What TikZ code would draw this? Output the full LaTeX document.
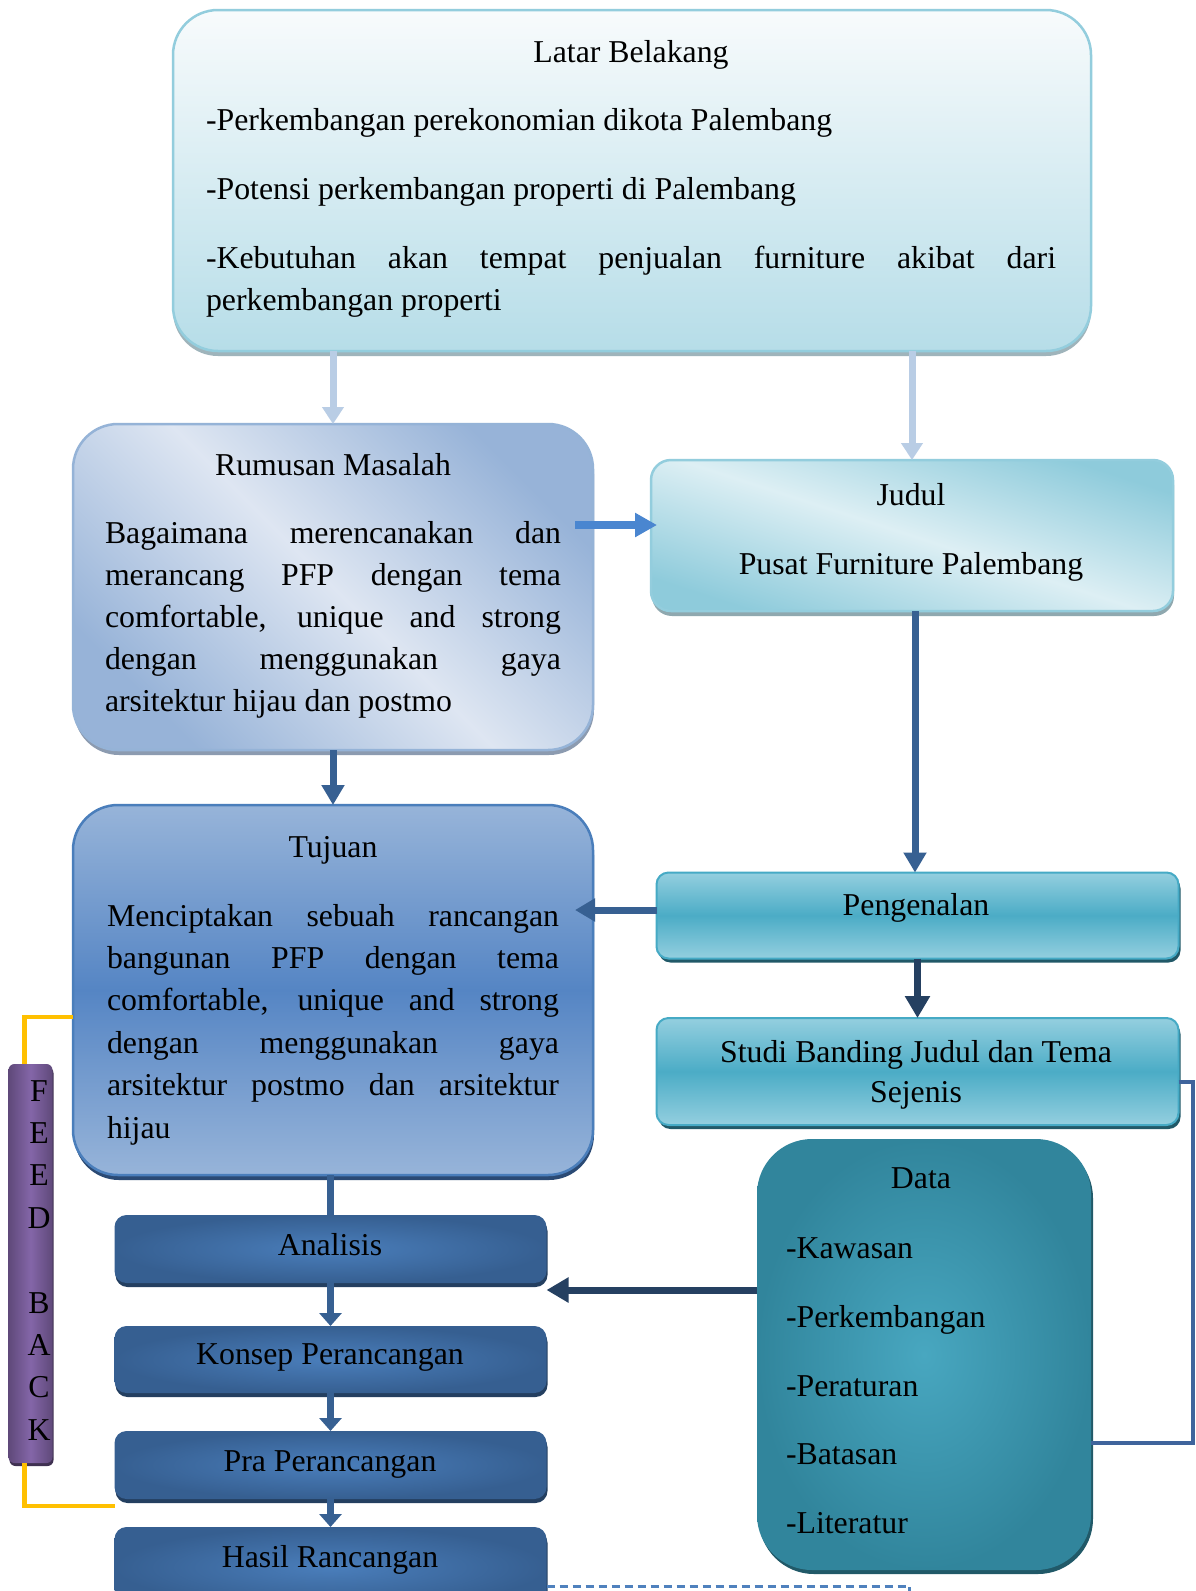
\documentclass[tikz,border=0pt]{standalone}
\usepackage{fontspec}
\setmainfont{Liberation Serif}
\usetikzlibrary{arrows.meta,shadows}
\definecolor{latTop}{HTML}{F8FBFC}
\definecolor{latBot}{HTML}{B6DDE8}
\definecolor{latLine}{HTML}{93CDDD}
\definecolor{latShadow}{HTML}{9FB4BB}
\definecolor{rumDark}{HTML}{97B3D8}
\definecolor{rumLight}{HTML}{DEE6F2}
\definecolor{rumLine}{HTML}{95B3D7}
\definecolor{rumShadow}{HTML}{8C9BB0}
\definecolor{judDark}{HTML}{8ECBDB}
\definecolor{judLight}{HTML}{DDEFF4}
\definecolor{judShadow}{HTML}{8FA8AF}
\definecolor{tujLight}{HTML}{97B4D9}
\definecolor{tujMid}{HTML}{5585C4}
\definecolor{tujLine}{HTML}{4A7EBB}
\definecolor{tujShadow}{HTML}{2B4A74}
\definecolor{penLight}{HTML}{94CFDF}
\definecolor{penMid}{HTML}{4BACC6}
\definecolor{penLine}{HTML}{46AAC5}
\definecolor{penShadow}{HTML}{215968}
\definecolor{datOuter}{HTML}{31859C}
\definecolor{datInner}{HTML}{48A7C0}
\definecolor{datShadow}{HTML}{215968}
\definecolor{anaOuter}{HTML}{365F91}
\definecolor{anaInner}{HTML}{4A7EBB}
\definecolor{anaShadow}{HTML}{243F60}
\definecolor{fbOuter}{HTML}{5F497A}
\definecolor{fbInner}{HTML}{8466A8}
\definecolor{fbShadow}{HTML}{3F3151}
\definecolor{lightArrow}{HTML}{B9CDE5}
\definecolor{blueArrow}{HTML}{4A86D0}
\definecolor{darkArrow}{HTML}{376092}
\definecolor{navyArrow}{HTML}{254061}
\definecolor{bracketBlue}{HTML}{3F649C}
\definecolor{fbOrange}{HTML}{FFC000}
\definecolor{dashBlue}{HTML}{4F81BD}
\tikzset{
  box/.style={rectangle, inner sep=0pt, outer sep=0pt},
  latbox/.style={box, rounded corners=45pt, draw=latLine, line width=2.5pt,
    top color=latTop, bottom color=latBot,
    drop shadow={shadow xshift=0pt, shadow yshift=-5pt, fill=latShadow, opacity=1}},
  rumbox/.style={box, rounded corners=45pt, draw=rumLine, line width=2.5pt,
    top color=rumDark, bottom color=rumDark, middle color=rumLight, shading angle=-45,
    drop shadow={shadow xshift=1pt, shadow yshift=-5pt, fill=rumShadow, opacity=1}},
  judbox/.style={box, rounded corners=20pt, draw=latLine, line width=2.5pt,
    top color=judDark, bottom color=judDark, middle color=judLight, shading angle=-18,
    drop shadow={shadow xshift=1pt, shadow yshift=-5pt, fill=judShadow, opacity=1}},
  tujbox/.style={box, rounded corners=45pt, draw=tujLine, line width=2.5pt,
    top color=tujLight, bottom color=tujLight, middle color=tujMid,
    drop shadow={shadow xshift=1pt, shadow yshift=-5pt, fill=tujShadow, opacity=1}},
  penbox/.style={box, rounded corners=12pt, draw=penLine, line width=2pt,
    top color=penLight, bottom color=penLight, middle color=penMid,
    drop shadow={shadow xshift=2pt, shadow yshift=-4pt, fill=penShadow, opacity=1}},
  datbox/.style={box, rounded corners=55pt, inner color=datInner, outer color=datOuter,
    drop shadow={shadow xshift=2pt, shadow yshift=-4pt, fill=datShadow, opacity=1}},
  anabox/.style={box, rounded corners=12pt, inner color=anaInner, outer color=anaOuter,
    minimum width=432pt,
    drop shadow={shadow xshift=1pt, shadow yshift=-4pt, fill=anaShadow, opacity=1}},
  fbbox/.style={box, rounded corners=6pt, left color=fbOuter, right color=fbOuter, middle color=fbInner,
    drop shadow={shadow xshift=1pt, shadow yshift=-3pt, fill=fbShadow, opacity=1}},
  txt/.style={inner sep=0pt, outer sep=0pt, font=\fontsize{31.8}{42.4}\selectfont},
  lefttxt/.style={txt, anchor=base west},
  ctrtxt/.style={txt, anchor=base},
  lightarr/.style={draw=lightArrow, line width=7pt, -{Triangle[width=21pt,length=17pt]}},
  bluearr/.style={draw=blueArrow, line width=8pt, -{Triangle[width=23pt,length=22pt]}},
  darkarr/.style={draw=darkArrow, line width=7pt, -{Triangle[width=22pt,length=20pt]}},
  navyarr/.style={draw=navyArrow, line width=7pt, -{Triangle[width=24pt,length=22pt]}},
  smallarr/.style={draw=darkArrow, line width=7pt, -{Triangle[width=22pt,length=13pt]}},
  darkline/.style={draw=darkArrow, line width=7pt},
  bracket/.style={draw=bracketBlue, line width=4pt},
  fbline/.style={draw=fbOrange, line width=4.5pt},
  dashline/.style={draw=dashBlue, line width=3pt, dash pattern=on 8pt off 5pt},
}
\begin{document}
\begin{tikzpicture}[x=1pt,y=-1pt]
\useasboundingbox (0,0) rectangle (1195,1591);
\clip (0,0) rectangle (1195,1591);
\fill[white] (0,0) rectangle (1195,1591);

% boxes
\node[latbox, minimum width=918pt, minimum height=341pt] (lat) at (632,180.5) {};
\node[rumbox, minimum width=520pt, minimum height=326pt] (rum) at (333,587) {};
\node[judbox, minimum width=522pt, minimum height=151pt] (jud) at (912,535.5) {};
\node[tujbox, minimum width=520pt, minimum height=370pt] (tuj) at (333,990) {};
\node[penbox, minimum width=522pt, minimum height=86pt] (pen) at (917.5,915.5) {};
\node[penbox, minimum width=522pt, minimum height=107pt] (stu) at (917.5,1071.5) {};
\node[datbox, minimum width=334pt, minimum height=431pt] (dat) at (924,1354.5) {};
\node[anabox, minimum height=68pt] (ana) at (330.5,1249) {};
\node[anabox, minimum height=67pt] (kon) at (330.5,1359.5) {};
\node[anabox, minimum height=68pt] (pra) at (330.5,1465) {};
\node[anabox, minimum height=80pt] (has) at (330.5,1567) {};
\node[fbbox, minimum width=44pt, minimum height=399pt] (fb) at (30.5,1263.5) {};

% Latar Belakang
\node[ctrtxt] (lat0) at (631,62) {Latar Belakang};
\node[lefttxt] (lat1) at (206,130) {-Perkembangan perekonomian dikota Palembang};
\node[lefttxt] (lat2) at (206,199) {-Potensi perkembangan properti di Palembang};
\node[lefttxt] (lat3) at (206,268) {\makebox[850pt][s]{-Kebutuhan akan tempat penjualan furniture akibat dari}};
\node[lefttxt] (lat4) at (206,310) {perkembangan properti};

% Rumusan Masalah
\node[ctrtxt] (rum0) at (333,475) {Rumusan Masalah};
\node[lefttxt] (rum1) at (105,543) {\makebox[456pt][s]{Bagaimana merencanakan dan}};
\node[lefttxt] (rum2) at (105,585.2) {\makebox[456pt][s]{merancang PFP dengan tema}};
\node[lefttxt] (rum3) at (105,627.4) {\makebox[456pt][s]{comfortable, unique and strong}};
\node[lefttxt] (rum4) at (105,669.6) {\makebox[456pt][s]{dengan menggunakan gaya}};
\node[lefttxt] (rum5) at (105,711.8) {arsitektur hijau dan postmo};

% Judul
\node[ctrtxt] (jud0) at (911,505) {Judul};
\node[ctrtxt] (jud1) at (911,574) {Pusat Furniture Palembang};

% Tujuan
\node[ctrtxt] (tuj0) at (333,857) {Tujuan};
\node[lefttxt] (tuj1) at (107,926) {\makebox[452pt][s]{Menciptakan sebuah rancangan}};
\node[lefttxt] (tuj2) at (107,968.4) {\makebox[452pt][s]{bangunan PFP dengan tema}};
\node[lefttxt] (tuj3) at (107,1010.8) {\makebox[452pt][s]{comfortable, unique and strong}};
\node[lefttxt] (tuj4) at (107,1053.2) {\makebox[452pt][s]{dengan menggunakan gaya}};
\node[lefttxt] (tuj5) at (107,1095.6) {\makebox[452pt][s]{arsitektur postmo dan arsitektur}};
\node[lefttxt] (tuj6) at (107,1138) {hijau};

% Pengenalan, Studi
\node[ctrtxt] (pen0) at (916,915) {Pengenalan};
\node[ctrtxt] (stu0) at (916,1062) {Studi Banding Judul dan Tema};
\node[ctrtxt] (stu1) at (916,1102) {Sejenis};

% Data
\node[ctrtxt] (dat0) at (921,1188) {Data};
\node[lefttxt] (dat1) at (786,1258) {-Kawasan};
\node[lefttxt] (dat2) at (786,1327) {-Perkembangan};
\node[lefttxt] (dat3) at (786,1396) {-Peraturan};
\node[lefttxt] (dat4) at (786,1464) {-Batasan};
\node[lefttxt] (dat5) at (786,1533) {-Literatur};

% process boxes
\node[ctrtxt] (ana0) at (330,1255) {Analisis};
\node[ctrtxt] (kon0) at (330,1364) {Konsep Perancangan};
\node[ctrtxt] (pra0) at (330,1471) {Pra Perancangan};
\node[ctrtxt] (has0) at (330,1567) {Hasil Rancangan};

% FEED BACK
\node[ctrtxt] (fb1) at (39,1101) {F};
\node[ctrtxt] (fb2) at (39,1143.4) {E};
\node[ctrtxt] (fb3) at (39,1185.8) {E};
\node[ctrtxt] (fb4) at (39,1228.2) {D};
\node[ctrtxt] (fb5) at (39,1313) {B};
\node[ctrtxt] (fb6) at (39,1355.4) {A};
\node[ctrtxt] (fb7) at (39,1397.8) {C};
\node[ctrtxt] (fb8) at (39,1440.2) {K};

% connectors
\draw[lightarr] (rum.north |- lat.south) -- (rum.north);
\draw[lightarr] (jud.north |- lat.south) -- (jud.north);
\path ([yshift=10.5pt]jud.west) coordinate (judw);
\draw[bluearr, shorten <=-18pt, shorten >=-6pt] (judw -| rum.east) -- (judw);
\draw[darkarr] (rum.south) -- (tuj.north);
\path ([xshift=3pt]jud.south) coordinate (juds);
\draw[darkarr] (juds) -- (juds |- pen.north);
\path ([yshift=5.5pt]pen.west) coordinate (penw);
\draw[darkarr, shorten >=-18pt] (penw) -- (penw -| tuj.east);
\draw[navyarr] (pen.south) -- (stu.north);
\path ([yshift=-7pt]ana.south east) coordinate (anae);
\draw[navyarr] (anae -| dat.west) -- (anae);
\draw[darkline] (tuj.south -| ana.north) -- (ana.north);
\draw[smallarr] (ana.south) -- (kon.north);
\draw[smallarr] (kon.south) -- (pra.north);
\draw[smallarr] (pra.south) -- (has.north);
\path ([yshift=-10pt]stu.east) coordinate (stue);
\path ([yshift=-88.5pt]dat.east) coordinate (date);
\draw[bracket] (stue) -- ++(14,0) |- (date);
\path ([yshift=-27pt]tuj.west) coordinate (tujw);
\draw[fbline] (tujw) -| ([xshift=-6pt]fb.north);
\path ([yshift=-41pt]pra.west) coordinate (praw);
\draw[fbline] ([xshift=-6pt]fb.south) |- (praw);
\path ([yshift=-19pt]has.east) coordinate (hase);
\draw[dashline] (hase) -- ++(363,0) -- ++(0,12);
\end{tikzpicture}
\end{document}
